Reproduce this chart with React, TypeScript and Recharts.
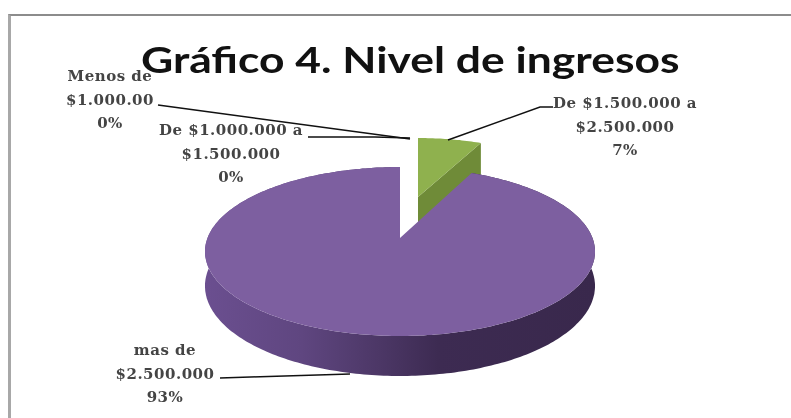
import { PieChart, Pie } from "recharts";

const categories = ["Menos de $1.000.00", "De $1.000.000 a $1.500.000", "De $1.500.000 a $2.500.000", "mas de $2.500.000"];
const values = [0, 0, 7, 93];
const percentLabels = ["0%", "0%", "7%", "93%"];
const labelLines = [
  ["Menos de", "$1.000.00"],
  ["De $1.000.000 a", "$1.500.000"],
  ["De $1.500.000 a", "$2.500.000"],
  ["mas de", "$2.500.000"],
];

// where each label sits and its leader line, same order as categories
const labelSpots = [
  { x: 110, y: 81, line: "158,105 410,139" },
  { x: 231, y: 135, line: "308,137 375,137 410,138" },
  { x: 625, y: 108, line: "448,140 540,107 553,107" },
  { x: 165, y: 355, line: "220,378 350,374" },
];

const K = 0.16; // fake perspective of the 3D disc
const slices: Record<number, any> = {
  2: { dx: 18, dy: -41, rx: 169, b: 68.4, depth: 36, top: "#8fb14e", side: "#6f8b38" },
  3: { dx: 0, dy: 0, rx: 192.5, b: 82.3, depth: 33.6, top: "#7d5fa0", side: "url(#rim)" },
};

function DiscSlice(props: any) {
  const { cx, cy, startAngle, endAngle, index } = props;
  const s = slices[index];
  if (!s || startAngle === endAngle) return null;
  const ox = cx + s.dx;
  const oy = cy + s.dy;
  const from = 90 - startAngle;
  const to = 90 - endAngle;
  const pt = (deg: number, down = 0) => {
    const t = (deg * Math.PI) / 180;
    const den = 1 + K * Math.cos(t);
    return [ox + (s.rx * Math.sin(t)) / den, oy + (-s.b * Math.cos(t) + down) / den];
  };
  const steps = Math.ceil(to - from);
  const arc: number[][] = [];
  const low: number[][] = [];
  for (let i = 0; i <= steps; i++) {
    const a = from + ((to - from) * i) / steps;
    arc.push(pt(a));
    low.push(pt(a, s.depth));
  }
  const toD = (p: number[][]) => "M" + p.map((q) => q[0].toFixed(1) + " " + q[1].toFixed(1)).join("L") + "Z";
  const lowApex = [ox, oy + s.depth];
  return (
    <g>
      {index === 2 && <path d={toD([[ox, oy], arc[arc.length - 1], low[low.length - 1], lowApex])} fill={s.side} />}
      {index === 3 && <path d={toD([...arc, ...low.slice().reverse()])} fill={s.side} />}
      <path d={toD([[ox, oy], ...arc])} fill={s.top} />
    </g>
  );
}

function SliceLabel(props: any) {
  const { index } = props;
  const spot = labelSpots[index];
  const rows = [...labelLines[index], percentLabels[index]];
  return (
    <g>
      <polyline points={spot.line} fill="none" stroke="#111" strokeWidth={1.5} />
      <text textAnchor="middle" fontFamily="DejaVu Serif" fontWeight={700} fontSize={15} letterSpacing={0.5} fill="#444">
        {rows.map((r, i) => (
          <tspan key={i} x={spot.x} y={spot.y + i * 23.5}>{r}</tspan>
        ))}
      </text>
    </g>
  );
}

const data = categories.map((name, i) => ({ name, value: values[i] }));

export default function App() {
  return (
    <div style={{ position: "absolute", left: 0, top: 0, width: 791, height: 418, background: "#fff", overflow: "hidden", filter: "blur(0.5px)" }}>
      <div style={{ position: "absolute", left: 8, top: 14, right: -4, bottom: -4, borderLeft: "3px solid #a8a8a8", borderTop: "2px solid #8c8c8c" }} />
      <PieChart width={791} height={418} margin={{ top: 0, right: 0, bottom: 0, left: 0 }} style={{ position: "absolute", left: 0, top: 0 }}>
        <defs>
          <linearGradient id="rim" gradientUnits="userSpaceOnUse" x1="204" y1="0" x2="594" y2="0">
            <stop offset="0%" stopColor="#6b4f90" />
            <stop offset="25%" stopColor="#5f4680" />
            <stop offset="45%" stopColor="#4c3766" />
            <stop offset="60%" stopColor="#3d2b52" />
            <stop offset="100%" stopColor="#39284c" />
          </linearGradient>
        </defs>
        <Pie
          data={data}
          dataKey="value"
          nameKey="name"
          cx={400}
          cy={238}
          outerRadius={192}
          startAngle={90}
          endAngle={-270}
          stroke="none"
          shape={DiscSlice}
          label={SliceLabel}
          labelLine={false}
          isAnimationActive={false}
        />
      </PieChart>
      <div style={{ position: "absolute", left: 141, top: 35, fontFamily: "Lato", fontWeight: 700, fontSize: 37, lineHeight: "48px", color: "#111", whiteSpace: "nowrap", transform: "scaleX(1.2)", transformOrigin: "left center" }}>
        Gráfico 4. Nivel de ingresos
      </div>
    </div>
  );
}
